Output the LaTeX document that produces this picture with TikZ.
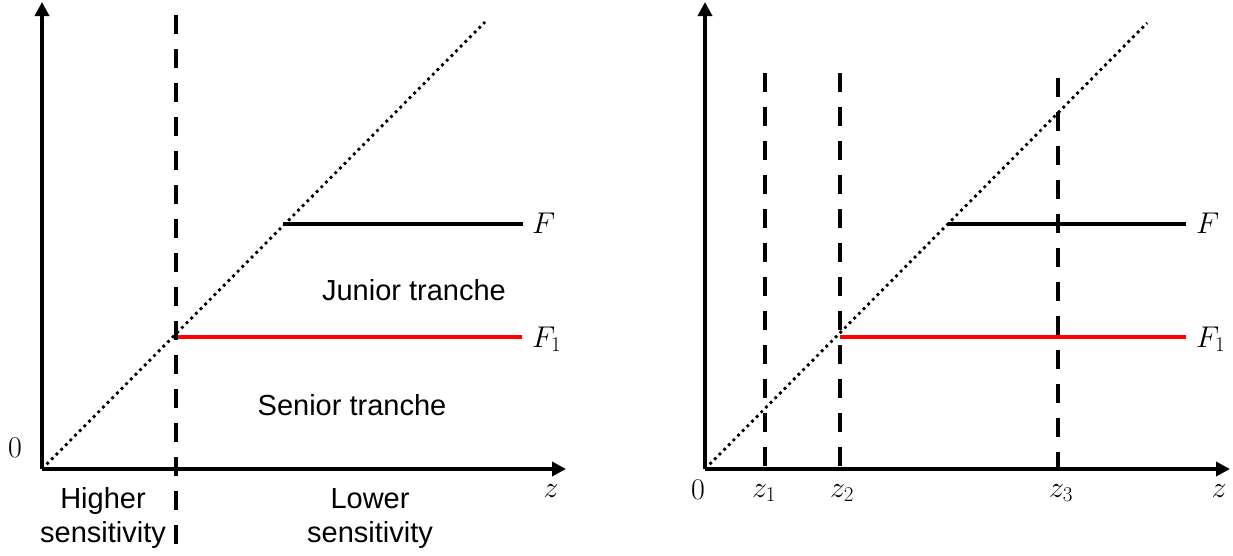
\documentclass[tikz,border=0pt]{standalone}
\usepackage{fix-cm}
\usepackage{fontspec}
\setmainfont{Liberation Sans}
\usetikzlibrary{arrows.meta}
\begin{document}
\begin{tikzpicture}[x=1pt,y=-1pt,
  axis/.style={line width=4.3pt,-{Triangle[length=14pt,width=14pt]}},
  vdash/.style={line width=4.6pt,dash pattern=on 19pt off 15pt},
  diag/.style={line width=2.8pt,dash pattern=on 2.8pt off 3.8pt},
  flevel/.style={line width=4pt},
  redlevel/.style={line width=4.2pt,red},
  txt/.style={font=\fontsize{29pt}{34pt}\selectfont,inner sep=0pt,anchor=base},
  mlab/.style={font=\fontsize{30pt}{34pt}\selectfont,inner sep=0pt,anchor=base},
  flab/.style={font=\fontsize{30pt}{34pt}\selectfont,inner sep=0pt,anchor=base west}]
\useasboundingbox (0,0) rectangle (1233,555);
% ---------- left panel ----------
\coordinate (O1) at (42,469);
\coordinate (Y1) at (42,2);
\coordinate (X1) at (566,469);
\coordinate (D1) at (485,22);
\coordinate (V1t) at (176,15);
\coordinate (V1b) at (176,555);
\coordinate (F1s) at (283,224);
\coordinate (F1e) at (523,224);
\coordinate (R1s) at (178,337);
\coordinate (R1e) at (522,337);
\draw[diag] (O1) -- (D1);
\draw[vdash] (V1t) -- (V1b);
\draw[flevel] (F1s) -- (F1e);
\draw[redlevel] (R1s) -- (R1e);
\draw[axis] (O1) -- (Y1);
\draw[axis] (O1) -- (X1);
\node[flab] (lF) at (532,233) {$F$};
\node[flab] (lF1) at (532,347) {$F_1$};
\node[txt] (jun) at (414,300) {Junior tranche};
\node[txt] (sen) at (352,415) {Senior tranche};
\node[mlab,anchor=center] (l0) at (15,448) {$0$};
\node[mlab] (lz) at (551,497) {$z$};
\node[txt] (hi1) at (103,508) {Higher};
\node[txt] (hi2) at (103,542) {sensitivity};
\node[txt] (lo1) at (370,508) {Lower};
\node[txt] (lo2) at (370,542) {sensitivity};
% ---------- right panel ----------
\coordinate (O2) at (705,469);
\coordinate (Y2) at (705,2);
\coordinate (X2) at (1230,469);
\coordinate (D2) at (1147,23);
\coordinate (Z1t) at (765,73);
\coordinate (Z1b) at (765,466);
\coordinate (Z2t) at (840,73);
\coordinate (Z2b) at (840,466);
\coordinate (Z3t) at (1058,78);
\coordinate (Z3b) at (1058,469);
\coordinate (F2s) at (948,224);
\coordinate (F2e) at (1186,224);
\coordinate (R2s) at (840,337);
\coordinate (R2e) at (1186,337);
\draw[diag] (O2) -- (D2);
\draw[vdash] (Z1t) -- (Z1b);
\draw[vdash] (Z2t) -- (Z2b);
\draw[vdash] (Z3t) -- (Z3b);
\draw[flevel] (F2s) -- (F2e);
\draw[redlevel] (R2s) -- (R2e);
\draw[axis] (O2) -- (Y2);
\draw[axis] (O2) -- (X2);
\node[flab] (rF) at (1196,233) {$F$};
\node[flab] (rF1) at (1196,347) {$F_1$};
\node[mlab] (r0) at (698,499) {$0$};
\node[mlab] (rz1) at (764,497) {$z_1$};
\node[mlab] (rz2) at (842,497) {$z_2$};
\node[mlab] (rz3) at (1061,497) {$z_3$};
\node[mlab] (rz) at (1219,497) {$z$};
\end{tikzpicture}
\end{document}
